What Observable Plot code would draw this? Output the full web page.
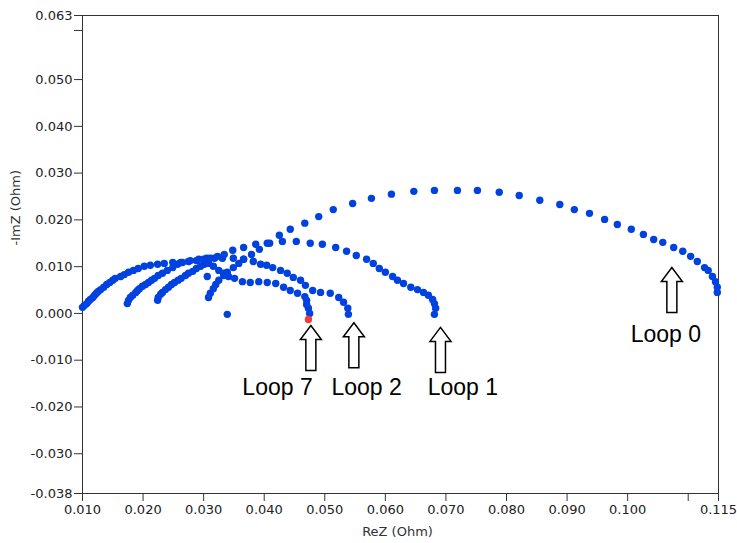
<!DOCTYPE html>
<html><head><meta charset="utf-8">
<script src="https://cdn.jsdelivr.net/npm/d3@7"></script>
<script src="https://cdn.jsdelivr.net/npm/@observablehq/plot@0.6"></script>
<style>body{margin:0;background:#fff}</style>
</head><body><div id="chart"></div>
<script>
// [ReZ, -ImZ] in Ohm
const loop0 = [[0.0308,0.0034],[0.0311,0.0043],[0.0316,0.0053],[0.0320,0.0062],[0.0325,0.0071],[0.0333,0.0081],[0.0339,0.0088],[0.0349,0.0098],[0.0358,0.0107],[0.0366,0.0116],[0.0379,0.0126],[0.0392,0.0137],[0.0409,0.0150],[0.0425,0.0167],[0.0443,0.0180],[0.0467,0.0193],[0.0490,0.0207],[0.0514,0.0222],[0.0546,0.0235],[0.0577,0.0246],[0.0610,0.0255],[0.0647,0.0261],[0.0681,0.0263],[0.0719,0.0263],[0.0752,0.0263],[0.0788,0.0259],[0.0821,0.0252],[0.0855,0.0242],[0.0888,0.0233],[0.0912,0.0222],[0.0937,0.0214],[0.0962,0.0201],[0.0983,0.0190],[0.1006,0.0180],[0.1026,0.0169],[0.1043,0.0158],[0.1058,0.0152],[0.1076,0.0141],[0.1091,0.0133],[0.1104,0.0122],[0.1115,0.0111],[0.1127,0.0098],[0.1133,0.0092],[0.1140,0.0079],[0.1145,0.0068],[0.1148,0.0056],[0.1148,0.0045]];
const loop1 = [[0.0100,0.0013],[0.0103,0.0017],[0.0107,0.0021],[0.0110,0.0026],[0.0113,0.0030],[0.0117,0.0034],[0.0120,0.0039],[0.0123,0.0043],[0.0126,0.0047],[0.0130,0.0051],[0.0135,0.0056],[0.0140,0.0062],[0.0145,0.0066],[0.0150,0.0071],[0.0154,0.0075],[0.0163,0.0079],[0.0169,0.0083],[0.0176,0.0088],[0.0184,0.0092],[0.0192,0.0096],[0.0202,0.0101],[0.0212,0.0103],[0.0224,0.0105],[0.0235,0.0107],[0.0249,0.0109],[0.0262,0.0109],[0.0275,0.0111],[0.0288,0.0113],[0.0300,0.0116],[0.0311,0.0118],[0.0323,0.0122],[0.0334,0.0126],[0.0348,0.0135],[0.0366,0.0141],[0.0386,0.0148],[0.0405,0.0150],[0.0430,0.0154],[0.0453,0.0154],[0.0476,0.0150],[0.0496,0.0148],[0.0518,0.0141],[0.0536,0.0133],[0.0552,0.0124],[0.0569,0.0116],[0.0580,0.0107],[0.0590,0.0096],[0.0600,0.0088],[0.0612,0.0079],[0.0620,0.0071],[0.0630,0.0064],[0.0642,0.0056],[0.0653,0.0051],[0.0663,0.0045],[0.0671,0.0039],[0.0678,0.0030],[0.0681,0.0021],[0.0683,0.0011],[0.0681,-0.0002]];
const loop2 = [[0.0174,0.0021],[0.0176,0.0028],[0.0179,0.0034],[0.0183,0.0039],[0.0188,0.0045],[0.0191,0.0049],[0.0194,0.0053],[0.0199,0.0058],[0.0204,0.0062],[0.0209,0.0066],[0.0214,0.0071],[0.0219,0.0075],[0.0225,0.0081],[0.0232,0.0086],[0.0240,0.0092],[0.0249,0.0098],[0.0257,0.0105],[0.0265,0.0109],[0.0278,0.0113],[0.0292,0.0116],[0.0305,0.0118],[0.0318,0.0118],[0.0331,0.0118],[0.0349,0.0118],[0.0366,0.0116],[0.0382,0.0111],[0.0394,0.0105],[0.0404,0.0103],[0.0414,0.0098],[0.0427,0.0092],[0.0438,0.0086],[0.0448,0.0077],[0.0460,0.0071],[0.0468,0.0060],[0.0480,0.0049],[0.0493,0.0045],[0.0509,0.0043],[0.0523,0.0034],[0.0531,0.0024],[0.0538,0.0011],[0.0539,-0.0002]];
const loop7 = [[0.0224,0.0028],[0.0225,0.0034],[0.0229,0.0041],[0.0232,0.0045],[0.0237,0.0051],[0.0242,0.0056],[0.0247,0.0062],[0.0252,0.0066],[0.0258,0.0071],[0.0263,0.0075],[0.0270,0.0081],[0.0275,0.0086],[0.0282,0.0090],[0.0288,0.0096],[0.0295,0.0101],[0.0301,0.0105],[0.0308,0.0107],[0.0316,0.0101],[0.0325,0.0092],[0.0333,0.0086],[0.0341,0.0079],[0.0351,0.0075],[0.0364,0.0068],[0.0377,0.0066],[0.0391,0.0068],[0.0405,0.0066],[0.0419,0.0064],[0.0432,0.0056],[0.0443,0.0049],[0.0455,0.0043],[0.0467,0.0036],[0.0470,0.0028],[0.0470,0.0019],[0.0473,0.0011],[0.0475,0.0000]];
const otherLoops = [[0.0306,0.0079],[0.0339,-0.0002]];
const lastPoint = [[0.0473,-0.0013]];

const xTickValues = [0.010,0.020,0.030,0.040,0.050,0.060,0.070,0.080,0.090,0.100,0.115];
const xTickLabels = ["0.010","0.020","0.030","0.040","0.050","0.060","0.070","0.080","0.090","0.100","0.115"];
const xMinorTicks = [0.110];
const yTickValues = [-0.0385,-0.030,-0.020,-0.010,0.000,0.010,0.020,0.030,0.040,0.050,0.0637];
const yTickLabels = ["-0.038","-0.030","-0.020","-0.010","0.000","0.010","0.020","0.030","0.040","0.050","0.063"];
const yMinorTicks = [0.0605];

const loopLabels = ["Loop 7","Loop 2","Loop 1","Loop 0"];
const labelReZ = [0.0422,0.0569,0.0728,0.1063];
const labelImZ = [-0.0158,-0.0158,-0.0158,-0.0045];
const arrowReZ = [0.0477,0.0548,0.0691,0.1073];
const arrowImZ = [-0.0074,-0.0068,-0.0078,0.0050];

const blue = "#0042E0";
const points = [loop0, loop1, loop2, loop7, otherLoops].flatMap(s => s.map(([re, im]) => ({re, im})));
const red = lastPoint.map(([re, im]) => ({re, im}));
const labels = loopLabels.map((t, i) => ({t, x: labelReZ[i], y: labelImZ[i]}));
const arrows = loopLabels.map((t, i) => ({x: arrowReZ[i], y: arrowImZ[i]}));

const arrowSymbol = {
  draw(ctx) {
    ctx.moveTo(0, -22.5);
    ctx.lineTo(10.5, -8.5);
    ctx.lineTo(5, -8.5);
    ctx.lineTo(5, 22.5);
    ctx.lineTo(-5, 22.5);
    ctx.lineTo(-5, -8.5);
    ctx.lineTo(-10.5, -8.5);
    ctx.closePath();
  }
};

const axisFont = "'DejaVu Sans', sans-serif";
const labelFont = "'Liberation Sans', Arial, sans-serif";
const chart = Plot.plot({
  width: 737, height: 543,
  marginLeft: 82, marginRight: 19, marginTop: 15, marginBottom: 50,
  style: {fontFamily: axisFont, fontSize: "13px", color: "#222", background: "#fff"},
  x: {domain: [0.010, 0.115]},
  y: {domain: [-0.0385, 0.0637]},
  marks: [
    Plot.frame({stroke: "#333"}),
    Plot.axisX({ticks: xTickValues, tickFormat: d => xTickLabels[xTickValues.indexOf(d)], tickSize: 8, tickPadding: 3, stroke: "#333", fill: "#222", fontSize: 13, label: null}),
    Plot.axisX({ticks: xMinorTicks, tickFormat: () => "", tickSize: 8, stroke: "#333", label: null}),
    Plot.axisY({ticks: yTickValues, tickFormat: d => yTickLabels[yTickValues.indexOf(d)], tickSize: 8, tickPadding: 2, stroke: "#333", fill: "#222", fontSize: 13, label: null}),
    Plot.axisY({ticks: yMinorTicks, tickFormat: () => "", tickSize: 8, stroke: "#333", label: null}),
    Plot.text(["-ImZ (Ohm)"], {frameAnchor: "left", dx: -67, dy: -9, rotate: -90, fontSize: 13, fill: "#333"}),
    Plot.text(["ReZ (Ohm)"], {frameAnchor: "bottom", dy: 42, dx: -3, fontSize: 13, fill: "#333"}),
    Plot.dot(points, {x: "re", y: "im", r: 3.7, fill: blue}),
    Plot.dot(red, {x: "re", y: "im", r: 3.7, fill: "#F03C3C"}),
    Plot.dot(arrows, {x: "x", y: "y", symbol: arrowSymbol, r: 5, fill: "white", stroke: "black", strokeWidth: 1.5}),
    Plot.text(labels, {x: "x", y: "y", text: "t", fontSize: 23, fontFamily: labelFont, fill: "#000", lineAnchor: "middle"})
  ]
});
document.getElementById("chart").appendChild(chart);
</script>
</body></html>
